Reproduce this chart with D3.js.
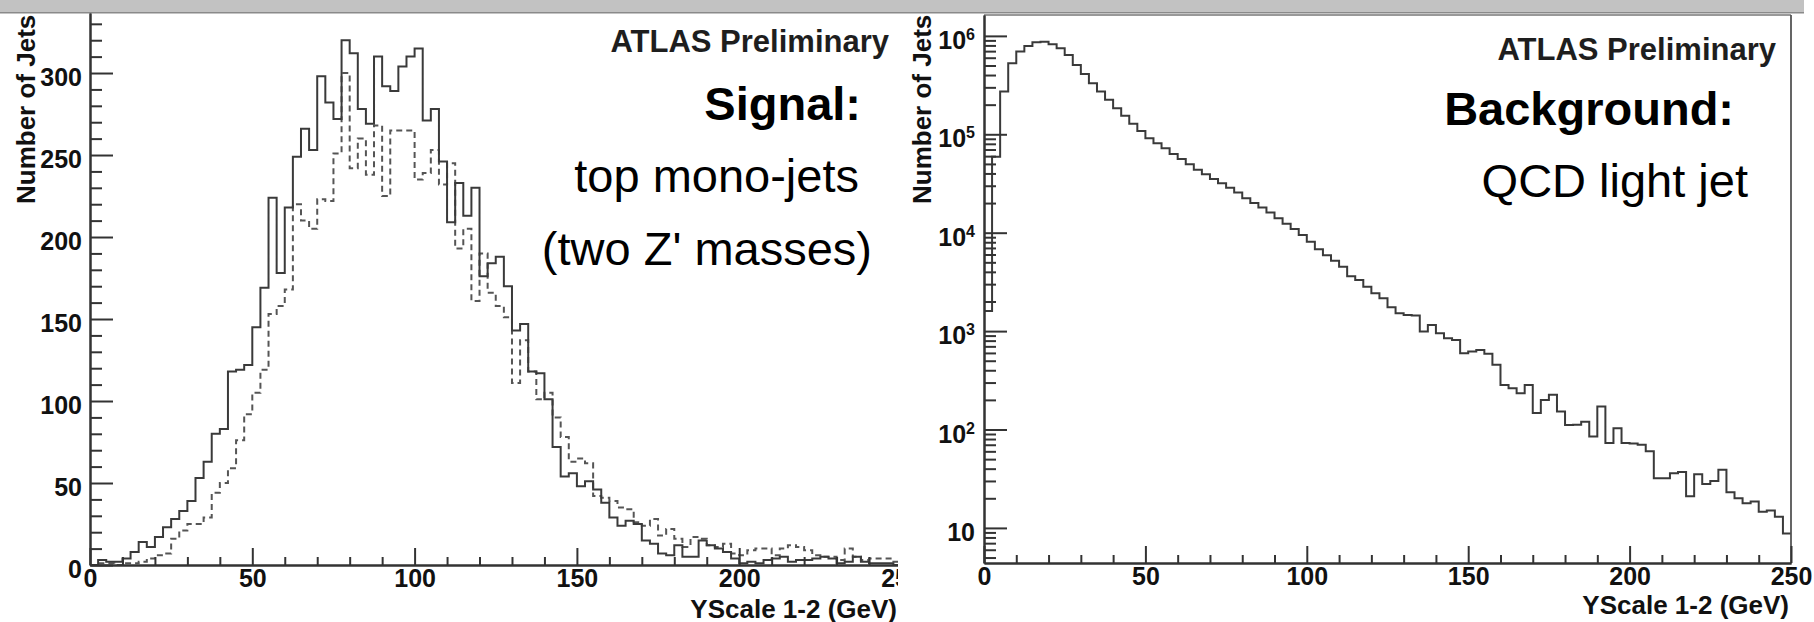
<!DOCTYPE html>
<html>
<head>
<meta charset="utf-8">
<script src="https://cdn.jsdelivr.net/npm/d3@7"></script>
<style>
  body { margin: 0; background: #fff; }
  svg { display: block; font-family: "Liberation Sans", Arial, Helvetica, sans-serif; }
  .axis path, .axis line { stroke: #333; stroke-width: 2; }
  .axis text { font-size: 25px; font-weight: bold; fill: #111; }
</style>
</head>
<body>
<svg id="chart" width="1814" height="622"></svg>
<script>
"use strict";

// bins of 2.5 GeV from 0 to 250
var binWidth = 2.5;

// left panel: signal, two Z' masses (solid / dashed)
var signalSolid = [
  0, 3, 2, 2, 4, 8, 14, 11, 17, 23,
  28, 33, 39, 53, 63, 80, 83, 118, 119, 122,
  145, 169, 224, 178, 218, 249, 266, 253, 298, 282,
  272, 320, 312, 278, 269, 310, 292, 289, 304, 310,
  315, 271, 278, 246, 209, 233, 213, 230, 176, 184,
  188, 170, 143, 147, 118, 117, 101, 72, 54, 56,
  48, 51, 46, 38, 29, 24, 27, 25, 15, 13,
  7, 6, 12, 5, 5, 15, 12, 10, 8, 4,
  1, 2, 1, 3, 4, 5, 2, 3, 3, 4,
  5, 4, 1, 2, 5, 2, 1, 1, 1, 0
];
var signalDashed = [
  0, 1, 1, 0, 1, 1, 2, 4, 6, 7,
  16, 21, 25, 25, 29, 44, 50, 59, 76, 92,
  105, 119, 153, 158, 168, 220, 210, 205, 223, 222,
  251, 300, 242, 260, 238, 268, 225, 265, 265, 265,
  235, 239, 253, 232, 245, 193, 205, 161, 190, 166,
  158, 151, 111, 137, 118, 101, 105, 90, 78, 63,
  65, 62, 42, 41, 39, 35, 34, 26, 24, 28,
  18, 22, 16, 11, 17, 16, 12, 11, 13, 7,
  6, 9, 10, 10, 6, 10, 12, 11, 9, 6,
  5, 5, 3, 10, 5, 3, 4, 4, 4, 2
];

// right panel: QCD light jet background
var background = [
  1600, 59000, 272000, 527000, 692000, 791000, 863000, 870000, 824000, 750000,
  641000, 507000, 411000, 331000, 272000, 224000, 184000, 154000, 128000, 108000,
  91000, 81000, 72000, 63000, 56000, 49700, 43500, 39300, 35200, 31800,
  28700, 25600, 22400, 20000, 18000, 16000, 14000, 12300, 10900, 9500,
  8100, 6800, 5900, 5200, 4500, 3600, 3300, 2830, 2430, 2160,
  1750, 1520, 1460, 1440, 988, 1156, 952, 847, 814, 596,
  619, 644, 590, 454, 284, 263, 234, 283, 147, 200,
  225, 152, 111, 112, 120, 85, 171, 73, 103, 73,
  72, 70, 60, 32, 32, 36, 37, 21, 35, 28,
  30, 39, 23, 20, 17.8, 18.5, 14.6, 15, 13, 8.8
];

var xMajor = [0, 50, 100, 150, 200, 250];
var leftYMajor = [0, 50, 100, 150, 200, 250, 300];
var rightYMajor = [10, 100, 1000, 10000, 100000, 1000000];
var axisTitleX = "YScale 1-2 (GeV)";
var axisTitleY = "Number of Jets";
var tagText = "ATLAS Preliminary";

var svg = d3.select("#chart");

// scales
var xL = d3.scaleLinear().domain([0, 250]).range([90, 901.5]);
var yL = d3.scaleLinear().domain([0, 336.6]).range([565, 13]);
var xR = d3.scaleLinear().domain([0, 250]).range([984, 1791]);
var yR = d3.scaleLog().domain([4.4, 1.63e6]).range([563, 15]);

function minorLinear(step, max, major) {
    return d3.range(0, max + 0.001, step).filter(function (v) {
        return v % major !== 0;
    });
}

function minorLog(scale) {
    var dom = scale.domain(), out = [];
    for (var d = 0; d < 7; d++)
        for (var k = 2; k <= 9; k++) {
            var v = k * Math.pow(10, d);
            if (v >= dom[0] && v <= dom[1]) out.push(v);
        }
    return out;
}

function stepLine(x, y, values) {
    var pts = values.map(function (v, i) { return [i * binWidth, v]; });
    pts.push([values.length * binWidth, values[values.length - 1]]);
    return d3.line()
        .x(function (d) { return x(d[0]); })
        .y(function (d) { return y(d[1]); })
        .curve(d3.curveStepAfter)(pts);
}

function drawAxes(g, x, y, yTicks, yMinor, yFormat, x0, y0) {
    // x axis, ticks pointing up into the frame
    g.append("g").attr("class", "axis")
        .attr("transform", "translate(0," + y0 + ")")
        .call(d3.axisBottom(x).tickValues(minorLinear(10, 250, 50))
              .tickSize(-8).tickSizeOuter(0).tickFormat(""));
    var ax = g.append("g").attr("class", "axis")
        .attr("transform", "translate(0," + y0 + ")")
        .call(d3.axisBottom(x).tickValues(xMajor)
              .tickSize(-17).tickSizeOuter(0).tickPadding(6).tickFormat(d3.format("d")));
    ax.selectAll("text").attr("dy", "0.64em");

    // y axis, ticks pointing right
    g.append("g").attr("class", "axis")
        .attr("transform", "translate(" + x0 + ",0)")
        .call(d3.axisLeft(y).tickValues(yMinor)
              .tickSize(-12).tickSizeOuter(0).tickFormat(""));
    var ay = g.append("g").attr("class", "axis")
        .attr("transform", "translate(" + x0 + ",0)")
        .call(d3.axisLeft(y).tickValues(yTicks)
              .tickSize(-23).tickSizeOuter(0).tickPadding(8).tickFormat(yFormat));
    ay.selectAll("text").attr("dy", "0.48em");
    return ay;
}

// grey strip along the top
svg.append("rect").attr("x", 0).attr("y", 0).attr("width", 1804).attr("height", 12)
    .attr("fill", "#c2c2c2");
svg.append("line").attr("x1", 0).attr("x2", 1804).attr("y1", 12.8).attr("y2", 12.8)
    .attr("stroke", "#8a8a8a").attr("stroke-width", 1.5);

// ---------- left panel ----------
svg.append("clipPath").attr("id", "clipL")
    .append("rect").attr("x", 0).attr("y", 0).attr("width", 898).attr("height", 622);

var left = svg.append("g").attr("clip-path", "url(#clipL)");

left.append("path")
    .attr("d", stepLine(xL, yL, signalDashed))
    .attr("fill", "none").attr("stroke", "#555").attr("stroke-width", 2)
    .attr("stroke-dasharray", "6,4");
left.append("path")
    .attr("d", stepLine(xL, yL, signalSolid))
    .attr("fill", "none").attr("stroke", "#3a3a3a").attr("stroke-width", 2);

drawAxes(left, xL, yL, leftYMajor, minorLinear(10, 330, 50), d3.format("d"), 90, 565);

left.append("text").attr("x", 897).attr("y", 618).attr("text-anchor", "end")
    .attr("font-size", 26).attr("font-weight", "bold").attr("fill", "#111")
    .text(axisTitleX);
left.append("text").attr("transform", "translate(35,204) rotate(-90)")
    .attr("font-size", 26).attr("font-weight", "bold").attr("fill", "#111")
    .text(axisTitleY);

left.append("text").attr("x", 889).attr("y", 52).attr("text-anchor", "end")
    .attr("font-size", 31).attr("font-weight", "bold").attr("fill", "#1e1e1e")
    .text(tagText);
left.append("text").attr("x", 861).attr("y", 120).attr("text-anchor", "end")
    .attr("font-size", 47).attr("font-weight", "bold").attr("fill", "#000")
    .text("Signal:");
left.append("text").attr("x", 859).attr("y", 192).attr("text-anchor", "end")
    .attr("font-size", 47).attr("fill", "#000")
    .text("top mono-jets");
left.append("text").attr("x", 872).attr("y", 265).attr("text-anchor", "end")
    .attr("font-size", 47).attr("fill", "#000")
    .text("(two Z' masses)");

// ---------- right panel ----------
var right = svg.append("g");

right.append("path")
    .attr("d", stepLine(xR, yR, background))
    .attr("fill", "none").attr("stroke", "#3a3a3a").attr("stroke-width", 2);

// frame: top and right edge
right.append("line").attr("x1", 984).attr("x2", 1791).attr("y1", 15).attr("y2", 15)
    .attr("stroke", "#777").attr("stroke-width", 1.5);
right.append("line").attr("x1", 1791).attr("x2", 1791).attr("y1", 15).attr("y2", 563)
    .attr("stroke", "#555").attr("stroke-width", 1.8);

var ayR = drawAxes(right, xR, yR, rightYMajor, minorLog(yR), function (d) { return d; }, 984, 563);

// power-of-ten labels: 10, 10^2 ... 10^6
ayR.selectAll(".tick text").each(function (d) {
    var t = d3.select(this), p = Math.round(Math.log10(d));
    t.text("");
    t.append("tspan").text("10");
    if (p > 1)
        t.append("tspan").attr("dy", "-0.55em").attr("font-size", "16px").text(p);
});
ayR.selectAll(".tick text").attr("x", -9).attr("dy", "0.5em");

right.append("text").attr("x", 1789).attr("y", 614).attr("text-anchor", "end")
    .attr("font-size", 26).attr("font-weight", "bold").attr("fill", "#111")
    .text(axisTitleX);
right.append("text").attr("transform", "translate(931,204) rotate(-90)")
    .attr("font-size", 26).attr("font-weight", "bold").attr("fill", "#111")
    .text(axisTitleY);

right.append("text").attr("x", 1776).attr("y", 60).attr("text-anchor", "end")
    .attr("font-size", 31).attr("font-weight", "bold").attr("fill", "#1e1e1e")
    .text(tagText);
right.append("text").attr("x", 1734).attr("y", 125).attr("text-anchor", "end")
    .attr("font-size", 47).attr("font-weight", "bold").attr("fill", "#000")
    .text("Background:");
right.append("text").attr("x", 1748).attr("y", 197).attr("text-anchor", "end")
    .attr("font-size", 47).attr("fill", "#000")
    .text("QCD light jet");
</script>
</body>
</html>
